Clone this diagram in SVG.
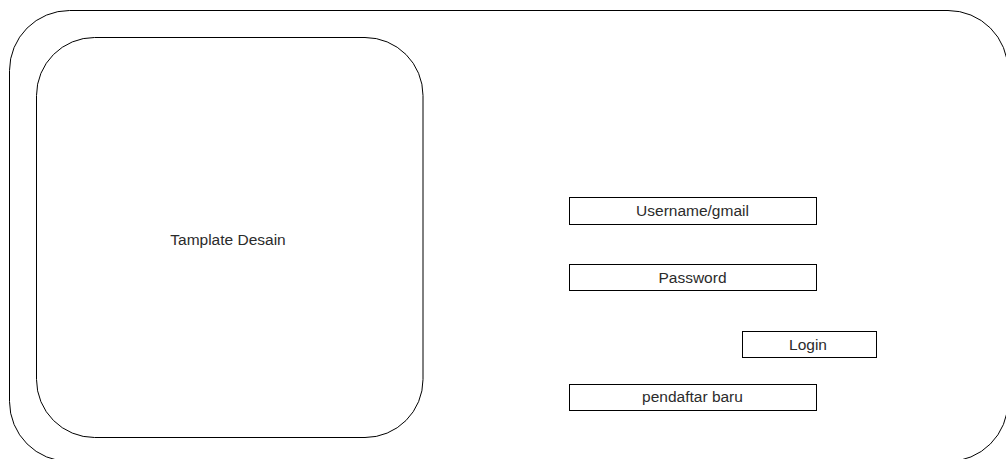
<svg xmlns="http://www.w3.org/2000/svg" width="1006" height="459" viewBox="0 0 1006 459">
  <style>
    .frame { fill: #ffffff; stroke: #000000; stroke-width: 1; }
    .field { fill: #ffffff; stroke: #000000; stroke-width: 1; }
    .label { font-family: "Liberation Sans", Arial, sans-serif; font-size: 15.5px; fill: #2b2b2b; text-anchor: middle; }
  </style>
  <rect width="1006" height="459" fill="#ffffff"/>
  <g id="window">
    <rect class="frame" x="9.5" y="10.5" width="998.5" height="451" rx="60" ry="60"/>
  </g>
  <g id="template">
    <rect class="frame" x="36.5" y="37.5" width="386.5" height="400" rx="58" ry="58"/>
    <text class="label" x="228" y="245">Tamplate Desain</text>
  </g>
  <g id="username">
    <rect class="field" x="569.5" y="197.5" width="247" height="27"/>
    <text class="label" x="692.5" y="216">Username/gmail</text>
  </g>
  <g id="password">
    <rect class="field" x="569.5" y="264.5" width="247" height="26"/>
    <text class="label" x="692.5" y="283">Password</text>
  </g>
  <g id="login">
    <rect class="field" x="742.5" y="331.5" width="134" height="26"/>
    <text class="label" x="808" y="350">Login</text>
  </g>
  <g id="register">
    <rect class="field" x="569.5" y="384.5" width="247" height="26"/>
    <text class="label" x="692.5" y="401.5">pendaftar baru</text>
  </g>
  <g id="connectors"></g>
</svg>
